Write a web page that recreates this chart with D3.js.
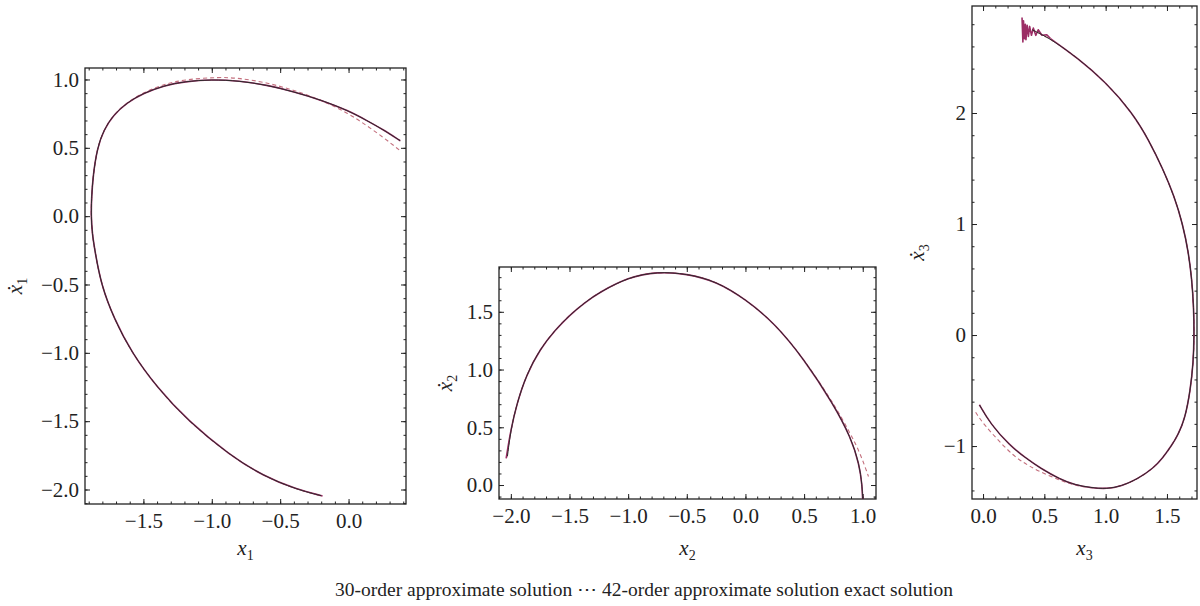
<!DOCTYPE html>
<html>
<head>
<meta charset="utf-8">
<script src="https://cdn.jsdelivr.net/npm/d3@7"></script>
<style>
  body { margin: 0; background: #fff; }
  svg text { font-family: "Liberation Serif", "Times New Roman", serif; fill: #222; }
</style>
</head>
<body>
<svg id="chart" width="1200" height="606"></svg>
<script>
// ---- data ----
// panel 1 : x1 vs x1'
let p1Exact = [[0.378, 0.552], [0.25, 0.635], [0.133, 0.70], [0.0, 0.771], [-0.2, 0.85], [-0.4, 0.91], [-0.6, 0.96],
    [-0.8, 0.99], [-1.0, 1.0], [-1.2, 0.985], [-1.35, 0.955], [-1.5, 0.90], [-1.62, 0.83], [-1.72, 0.74],
    [-1.79, 0.63], [-1.837, 0.50], [-1.868, 0.30], [-1.88, 0.12], [-1.882, 0.0], [-1.874, -0.13],
    [-1.855, -0.25], [-1.81, -0.5], [-1.715, -0.75], [-1.585, -1.0], [-1.403, -1.25], [-1.172, -1.5],
    [-0.867, -1.75], [-0.625, -1.9], [-0.379, -2.0], [-0.2, -2.045]];
let p1Order30 = [[0.37, 0.485], [0.25, 0.58], [0.133, 0.662], [0.0, 0.752], [-0.2, 0.85], [-0.4, 0.922], [-0.6, 0.978],
    [-0.8, 1.01], [-0.95, 1.018], [-1.2, 1.0], [-1.35, 0.965], [-1.5, 0.905], [-1.62, 0.832], [-1.72, 0.741],
    [-1.79, 0.63], [-1.837, 0.50], [-1.868, 0.30], [-1.88, 0.12], [-1.882, 0.0], [-1.874, -0.13],
    [-1.855, -0.25], [-1.81, -0.5], [-1.715, -0.75], [-1.585, -1.0], [-1.403, -1.25], [-1.172, -1.5],
    [-0.867, -1.75], [-0.625, -1.9], [-0.379, -2.0], [-0.2, -2.045]];
let p1Order42 = [[0.378, 0.552], [0.25, 0.635], [0.133, 0.70], [0.0, 0.771], [-0.2, 0.85], [-0.4, 0.91], [-0.6, 0.96],
    [-0.8, 0.99], [-1.0, 1.0], [-1.2, 0.985], [-1.35, 0.955], [-1.5, 0.90], [-1.62, 0.83], [-1.72, 0.74],
    [-1.79, 0.63], [-1.837, 0.50], [-1.868, 0.30], [-1.88, 0.12], [-1.882, 0.0], [-1.874, -0.13],
    [-1.855, -0.25], [-1.81, -0.5], [-1.715, -0.75], [-1.585, -1.0], [-1.403, -1.25], [-1.172, -1.5],
    [-0.867, -1.75], [-0.625, -1.9], [-0.379, -2.0], [-0.19, -2.047]];

// panel 2 : x2 vs x2'
let p2Exact = [[-2.029, 0.25], [-2.0, 0.48], [-1.95, 0.70], [-1.87, 0.95], [-1.75, 1.18], [-1.62, 1.345],
    [-1.5, 1.47], [-1.37, 1.58], [-1.25, 1.665], [-1.0, 1.80], [-0.75, 1.848], [-0.5, 1.83], [-0.25, 1.765],
    [0.0, 1.61], [0.25, 1.40], [0.5, 1.09], [0.75, 0.70], [0.9, 0.41], [0.97, 0.18], [0.995, 0.0], [1.0, -0.15]];
let p2Order30 = [[-2.035, 0.24], [-2.0, 0.48], [-1.95, 0.70], [-1.87, 0.95], [-1.75, 1.18], [-1.62, 1.345],
    [-1.5, 1.47], [-1.37, 1.58], [-1.25, 1.665], [-1.0, 1.80], [-0.75, 1.848], [-0.5, 1.83], [-0.25, 1.765],
    [0.0, 1.61], [0.25, 1.40], [0.5, 1.09], [0.75, 0.71], [0.893, 0.449], [0.978, 0.276], [1.049, 0.074]];
let p2Order42 = [[-2.04, 0.23], [-2.0, 0.48], [-1.95, 0.70], [-1.87, 0.95], [-1.75, 1.18], [-1.62, 1.345],
    [-1.5, 1.47], [-1.37, 1.58], [-1.25, 1.665], [-1.0, 1.80], [-0.75, 1.848], [-0.5, 1.83], [-0.25, 1.765],
    [0.0, 1.61], [0.25, 1.40], [0.5, 1.09], [0.75, 0.70], [0.9, 0.41], [0.97, 0.18], [0.995, 0.0], [1.0, -0.15]];

// panel 3 : x3 vs x3'
let p3Exact = [[0.40, 2.75], [0.55, 2.67], [0.766, 2.5], [1.0, 2.28], [1.22, 2.0], [1.355, 1.75],
    [1.465, 1.5], [1.56, 1.25], [1.628, 1.0], [1.675, 0.75], [1.703, 0.5], [1.718, 0.25], [1.722, 0.0],
    [1.715, -0.25], [1.69, -0.5], [1.648, -0.75], [1.59, -0.9], [1.535, -1.0], [1.47, -1.1], [1.39, -1.2],
    [1.255, -1.3], [1.13, -1.36], [1.008, -1.387], [0.88, -1.375], [0.75, -1.35], [0.63, -1.30],
    [0.467, -1.2], [0.34, -1.1], [0.222, -1.0], [0.06, -0.8], [-0.028, -0.631]];
let p3Order30 = [[0.40, 2.75], [0.55, 2.67], [0.766, 2.5], [1.0, 2.28], [1.22, 2.0], [1.355, 1.75],
    [1.465, 1.5], [1.56, 1.25], [1.628, 1.0], [1.675, 0.75], [1.703, 0.5], [1.718, 0.25], [1.722, 0.0],
    [1.715, -0.25], [1.69, -0.5], [1.648, -0.75], [1.59, -0.9], [1.535, -1.0], [1.47, -1.1], [1.39, -1.2],
    [1.255, -1.3], [1.13, -1.36], [1.008, -1.387], [0.88, -1.378], [0.75, -1.355], [0.63, -1.31],
    [0.45, -1.225], [0.33, -1.15], [0.222, -1.066], [0.0, -0.8], [-0.063, -0.691]];
// 42-order: jittery head near the top, then the smooth body
let p3Order42Noise = [[0.318, 2.86], [0.325, 2.64], [0.33, 2.83], [0.338, 2.67], [0.345, 2.80], [0.35, 2.66],
    [0.36, 2.79], [0.37, 2.69], [0.38, 2.78], [0.395, 2.70], [0.41, 2.765], [0.43, 2.70], [0.45, 2.75],
    [0.48, 2.70], [0.52, 2.705], [0.55, 2.67]];
let p3Order42 = [[0.55, 2.67], [0.766, 2.5], [1.0, 2.28], [1.22, 2.0], [1.355, 1.75],
    [1.465, 1.5], [1.56, 1.25], [1.628, 1.0], [1.675, 0.75], [1.703, 0.5], [1.718, 0.25], [1.722, 0.0],
    [1.715, -0.25], [1.69, -0.5], [1.648, -0.75], [1.59, -0.9], [1.535, -1.0], [1.47, -1.1], [1.39, -1.2],
    [1.255, -1.3], [1.13, -1.36], [1.008, -1.387], [0.88, -1.375], [0.75, -1.35], [0.63, -1.30],
    [0.467, -1.2], [0.34, -1.1], [0.222, -1.0], [0.06, -0.8], [-0.03, -0.628]];

// tick labels
let p1xTicks = [-1.5, -1.0, -0.5, 0.0];
let p1yTicks = [-2.0, -1.5, -1.0, -0.5, 0.0, 0.5, 1.0];
let p2xTicks = [-2.0, -1.5, -1.0, -0.5, 0.0, 0.5, 1.0];
let p2yTicks = [0.0, 0.5, 1.0, 1.5];
let p3xTicks = [0.0, 0.5, 1.0, 1.5];
let p3yTicks = [-1, 0, 1, 2];

let legendText = "30-order approximate solution \u22EF  42-order approximate solution exact solution";

// ---- drawing ----
let svg = d3.select("#chart");

let colors = { exact: "#2b2b2b", o30: "#c4707e", o42: "#9c2d65" };

let panels = [
    { id: 1, left: 85, right: 406, top: 68, bottom: 504, xDom: [-1.927, 0.42], yDom: [-2.106, 1.084],
      xTicks: p1xTicks, yTicks: p1yTicks, xMinor: 0.1, yMinor: 0.1, fmt: d3.format(".1f"),
      exact: p1Exact, o30: p1Order30, o42: p1Order42, sub: "1", xLabY: 555, yLabX: 22 },
    { id: 2, left: 499, right: 876, top: 267, bottom: 499, xDom: [-2.101, 1.113], yDom: [-0.121, 1.888],
      xTicks: p2xTicks, yTicks: p2yTicks, xMinor: 0.1, yMinor: 0.1, fmt: d3.format(".1f"),
      exact: p2Exact, o30: p2Order30, o42: p2Order42, sub: "2", xLabY: 555, yLabX: 452 },
    { id: 3, left: 972, right: 1197, top: 6, bottom: 499, xDom: [-0.09, 1.745], yDom: [-1.477, 2.964],
      xTicks: p3xTicks, yTicks: p3yTicks, xMinor: 0.1, yMinor: 0.2, fmt: d3.format(".1f"), yFmt: d3.format("d"),
      exact: p3Exact, o30: p3Order30, o42: p3Order42, noise: p3Order42Noise, sub: "3", xLabY: 555, yLabX: 924 }
];

function minorValues(dom, step) {
    let out = [];
    let start = Math.ceil(dom[0] / step - 1e-9);
    let end = Math.floor(dom[1] / step + 1e-9);
    for (let i = start; i <= end; i++) out.push(+(i * step).toFixed(4));
    return out;
}

function drawPanel(p) {
    let x = d3.scaleLinear().domain(p.xDom).range([p.left, p.right]);
    let y = d3.scaleLinear().domain(p.yDom).range([p.bottom, p.top]);
    let g = svg.append("g").attr("class", "panel" + p.id);

    g.append("clipPath").attr("id", "clip" + p.id)
        .append("rect")
        .attr("x", p.left).attr("y", p.top)
        .attr("width", p.right - p.left).attr("height", p.bottom - p.top);

    // minor ticks
    let xm = minorValues(p.xDom, p.xMinor);
    let ym = minorValues(p.yDom, p.yMinor);
    let addAxis = function (axis, tr) {
        let a = g.append("g").attr("transform", tr).call(axis);
        a.select(".domain").remove();
        a.selectAll("line").attr("stroke", "#222");
        return a;
    };
    addAxis(d3.axisBottom(x).tickValues(xm).tickSize(-2.5).tickFormat(""), "translate(0," + p.bottom + ")");
    addAxis(d3.axisTop(x).tickValues(xm).tickSize(-2.5).tickFormat(""), "translate(0," + p.top + ")");
    addAxis(d3.axisLeft(y).tickValues(ym).tickSize(-2.5).tickFormat(""), "translate(" + p.left + ",0)");
    addAxis(d3.axisRight(y).tickValues(ym).tickSize(-2.5).tickFormat(""), "translate(" + p.right + ",0)");

    // major ticks
    let minus = function (f) { return function (d) { return f(d).replace("-", "\u2212"); }; };
    let bx = addAxis(d3.axisBottom(x).tickValues(p.xTicks).tickSize(-5).tickPadding(9).tickFormat(minus(p.fmt)),
        "translate(0," + p.bottom + ")");
    let ly = addAxis(d3.axisLeft(y).tickValues(p.yTicks).tickSize(-5).tickPadding(6).tickFormat(minus(p.yFmt || p.fmt)),
        "translate(" + p.left + ",0)");
    addAxis(d3.axisTop(x).tickValues(p.xTicks).tickSize(-5).tickFormat(""), "translate(0," + p.top + ")");
    addAxis(d3.axisRight(y).tickValues(p.yTicks).tickSize(-5).tickFormat(""), "translate(" + p.right + ",0)");
    bx.selectAll("text").attr("font-size", 21).attr("fill", "#222").attr("dy", "0.72em");
    ly.selectAll("text").attr("font-size", 21).attr("fill", "#222");

    // frame
    g.append("rect")
        .attr("x", p.left).attr("y", p.top)
        .attr("width", p.right - p.left).attr("height", p.bottom - p.top)
        .attr("fill", "none").attr("stroke", "#222").attr("stroke-width", 1.3);

    let line = d3.line()
        .x(function (d) { return x(d[0]); })
        .y(function (d) { return y(d[1]); })
        .curve(d3.curveBasis);
    let jagged = d3.line()
        .x(function (d) { return x(d[0]); })
        .y(function (d) { return y(d[1]); });

    let curves = g.append("g").attr("clip-path", "url(#clip" + p.id + ")");
    curves.append("path").datum(p.o30)
        .attr("fill", "none").attr("stroke", colors.o30).attr("stroke-width", 1.1)
        .attr("stroke-dasharray", "4,3").attr("d", line);
    curves.append("path").datum(p.o42)
        .attr("fill", "none").attr("stroke", colors.o42).attr("stroke-width", 1.6)
        .attr("stroke-linejoin", "round").attr("d", line);
    if (p.noise) {
        curves.append("path").datum(p.noise)
            .attr("fill", "none").attr("stroke", colors.o42).attr("stroke-width", 1.6)
            .attr("stroke-linejoin", "round").attr("d", jagged);
    }
    curves.append("path").datum(p.exact)
        .attr("fill", "none").attr("stroke", colors.exact).attr("stroke-width", 1.0).attr("d", line);

    // axis labels
    let xl = g.append("text")
        .attr("x", (p.left + p.right) / 2).attr("y", p.xLabY)
        .attr("text-anchor", "middle").attr("font-size", 21);
    xl.append("tspan").attr("font-style", "italic").text("x");
    xl.append("tspan").attr("font-size", 14).attr("dy", 5).text(p.sub);

    let yl = g.append("text")
        .attr("transform", "translate(" + p.yLabX + "," + ((p.top + p.bottom) / 2) + ") rotate(-90)")
        .attr("text-anchor", "middle").attr("font-size", 21);
    yl.append("tspan").attr("font-style", "italic").text("x\u0307");
    yl.append("tspan").attr("font-size", 14).attr("dy", 5).text(p.sub);
}

panels.forEach(drawPanel);

svg.append("text")
    .attr("x", 644).attr("y", 596)
    .attr("text-anchor", "middle")
    .attr("font-size", 19.5)
    .text(legendText);
</script>
</body>
</html>
